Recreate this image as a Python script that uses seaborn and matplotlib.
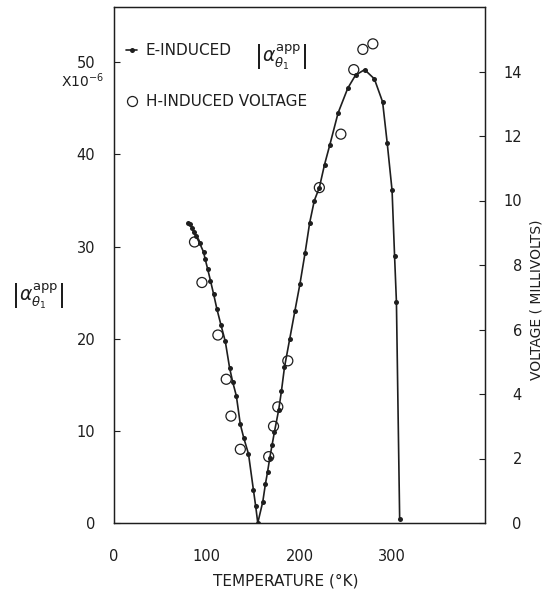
import matplotlib
matplotlib.use("Agg")
import matplotlib.pyplot as plt
import seaborn as sns
from matplotlib.lines import Line2D

# E-induced |alpha| (x10^-6) vs temperature (K)
e_temp = [80.3, 82.2, 84.0, 85.8, 88.6, 92.2, 96.6, 98.4, 100.9, 104.0, 107.5,
          111.0, 115.3, 120.0, 124.7, 128.0, 131.9, 136.2, 140.0, 145.0, 150.3,
          152.8, 155.0, 160.4, 163.2, 165.5, 168.0, 170.5, 173.0, 177.6, 180.5,
          183.8, 189.5, 195.0, 200.4, 206.0, 211.0, 216.0, 221.4, 227.0, 232.6,
          241.6, 252.1, 260.4, 270.2, 280.7, 289.6, 294.6, 299.8, 302.5, 304.5,
          308.0]
e_alpha = [32.6, 32.4, 32.0, 31.6, 31.1, 30.4, 29.4, 28.6, 27.6, 26.3, 24.8,
           23.2, 21.5, 19.7, 16.8, 15.3, 13.8, 10.7, 9.2, 7.5, 3.6,
           1.8, 0.0, 2.3, 4.2, 5.5, 7.1, 8.5, 9.9, 12.3, 14.3,
           16.9, 20.0, 23.0, 25.9, 29.3, 32.6, 35.0, 36.4, 38.9, 41.0,
           44.5, 47.2, 48.6, 49.2, 48.2, 45.7, 41.2, 36.1, 29.0, 24.0,
           0.4]

# H-induced voltage (plotted on the |alpha| scale)
h_temp = [86.8, 94.8, 112.0, 121.0, 126.1, 136.2, 166.8, 172.0, 176.6, 187.4,
          221.4, 244.6, 258.5, 268.3, 279.1]
h_alpha = [30.5, 26.1, 20.4, 15.6, 11.6, 8.0, 7.2, 10.5, 12.6, 17.6,
           36.4, 42.2, 49.2, 51.4, 52.0]

x_ticks = [0, 100, 200, 300]
y_ticks = [0, 10, 20, 30, 40, 50]
v_ticks = [0, 2, 4, 6, 8, 10, 12, 14]

sns.set_theme(style="white")
plt.rcParams["font.family"] = ["DejaVu Sans"]
ink = "#1e1e1e"

fig = plt.figure(figsize=(5.44, 5.92), dpi=100)
ax = fig.add_axes([114 / 544, 69 / 592, 371 / 544, 516 / 592])

sns.lineplot(x=e_temp, y=e_alpha, ax=ax, color=ink, linewidth=1.2,
             marker="o", markersize=3.6, markeredgewidth=0,
             estimator=None, sort=False)
sns.scatterplot(x=h_temp, y=h_alpha, ax=ax, s=52, marker="o",
                facecolor="none", edgecolor=ink, linewidth=0.9, zorder=3)
ax.collections[-1].set_facecolor("none")

ax.set_xlim(0, 400)
ax.set_ylim(0, 56)
ax.set_xticks(x_ticks)
ax.set_yticks(y_ticks)
ax.set_xlabel("")
ax.set_ylabel("")
ax.tick_params(direction="in", length=4.5, width=0.8, colors=ink,
               labelsize=10.5, labelcolor=ink)
ax.tick_params(axis="x", pad=18.5)
ax.tick_params(axis="y", pad=13.5)
for s in ax.spines.values():
    s.set_linewidth(0.9)
    s.set_color(ink)

ax2 = ax.twinx()
ax2.set_ylim(0, 16)
ax2.set_yticks(v_ticks)
ax2.tick_params(direction="in", length=4.5, width=0.8, colors=ink,
                labelsize=10.5, labelcolor=ink, pad=26.5)
for lbl in ax2.get_yticklabels():
    lbl.set_horizontalalignment("right")
for s in ax2.spines.values():
    s.set_linewidth(0.9)
    s.set_color(ink)

handles = [
    Line2D([], [], color=ink, lw=1.2, marker="o", ms=3.6, mew=0),
    Line2D([], [], ls="none", marker="o", ms=7.2, mfc="none", mec=ink, mew=0.9),
]
leg = ax.legend(handles, ["E-INDUCED", "H-INDUCED VOLTAGE"], loc="upper left",
                bbox_to_anchor=(0.032, 0.93), frameon=False, borderpad=0,
                borderaxespad=0, handlelength=0.75, handletextpad=0.55,
                labelspacing=2.35, fontsize=11)
for t in leg.get_texts():
    t.set_color(ink)

alpha_lbl = r"$\left|\alpha_{\theta_1}^{\mathrm{app}}\right|$"
fig.text(281 / 544, 1 - 57 / 592, alpha_lbl, fontsize=13.5, ha="center",
         va="center", color=ink)
fig.text(38 / 544, 1 - 296 / 592, alpha_lbl, fontsize=13.5, ha="center",
         va="center", color=ink)
fig.text(104 / 544, 1 - 81 / 592, r"X10$^{-6}$", fontsize=10, ha="right",
         va="center", color=ink)
fig.text(285.5 / 544, 1 - 581 / 592, "TEMPERATURE (°K)", fontsize=11,
         ha="center", va="center", color=ink)
fig.text(536 / 544, 1 - 300 / 592, "VOLTAGE ( MILLIVOLTS)", fontsize=10,
         rotation=90, ha="center", va="center", color=ink)

fig.savefig("out.png", dpi=100, facecolor="white")
